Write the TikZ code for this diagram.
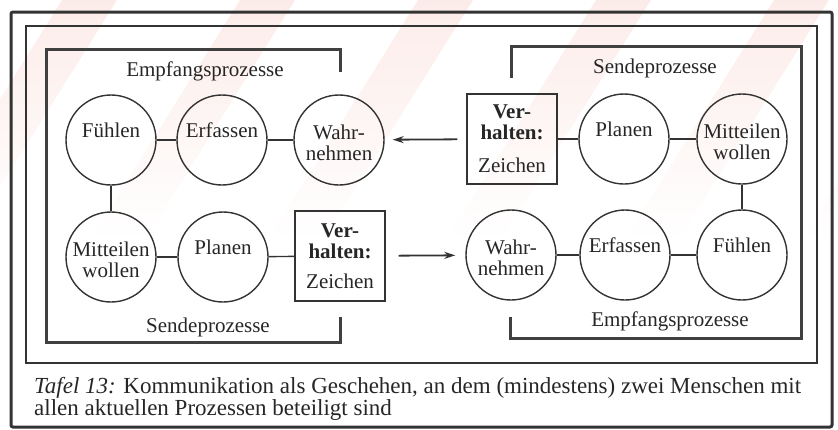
\documentclass[tikz,border=0pt]{standalone}
\usepackage{fontspec}
\setmainfont{Liberation Serif}
\usetikzlibrary{arrows.meta}
\definecolor{wmark}{RGB}{252,236,233}
\begin{document}
\begin{tikzpicture}[x=1pt,y=-1pt,
  every node/.style={font=\fontsize{21}{21}\selectfont, text=black!85},
  proc/.style={draw=black!80, circle, minimum size=90pt, inner sep=0pt, line width=1.4pt},
  ctext/.style={yshift=8pt, text height=14pt, text depth=4pt, inner sep=0pt},
  ctextb/.style={yshift=-3pt, align=center, inner sep=0pt},
  sig/.style={draw=black!80, rectangle, minimum width=90pt, minimum height=90pt, inner sep=0pt, line width=1.4pt, align=center},
  link/.style={draw=black!80, line width=1.4pt},
  flow/.style={draw=black!80, line width=1.8pt, -{Stealth[length=11pt,width=7pt]}},
  bracket/.style={draw=black!75, line width=3pt},
  ttl/.style={anchor=base, inner sep=0pt},
  capt/.style={anchor=base west, inner sep=0pt, font=\fontsize{23}{23}\selectfont},
  stripe/.style={top color=wmark, bottom color=white, draw=none},
]
\useasboundingbox (0,0) rectangle (838,429);
% faint watermark stripes
\foreach \sx in {62,240,418,596,774,952} {
  \shade[stripe] (\sx,0) -- ({\sx+55},0) -- ({\sx+55-150},240) -- ({\sx-150},240) -- cycle;
}
% frames
\draw[line width=3pt, black!80, rounded corners=2pt] (11,12) rectangle (832,427);
\draw[line width=2pt, black!80] (26,26) rectangle (817,363);
\draw[bracket] (340,72) -- (340,49) -- (46,49) -- (46,342) -- (340,342) -- (340,317);
\draw[bracket] (511,78) -- (511,46) -- (801,46) -- (801,338) -- (510,338) -- (510,317);
% titles
\node[ttl] (t1) at (205,76) {Empfangsprozesse};
\node[ttl] (t2) at (655,73) {Sendeprozesse};
\node[ttl] (t3) at (208,332) {Sendeprozesse};
\node[ttl] (t4) at (670,326) {Empfangsprozesse};
% top row
\node[proc, label={[ctext]center:F\"uhlen}] (F1) at (111,140) {};
\node[proc, label={[ctext]center:Erfassen}] (E1) at (222,140) {};
\node[proc, label={[ctextb]center:{Wahr-\\nehmen}}] (W1) at (339,140) {};
\node[sig] (V1) at (512,139) {\textbf{Ver-}\\\textbf{halten:}\\[12pt]Zeichen};
\node[proc, label={[ctext]center:Planen}] (P1) at (624,139) {};
\node[proc, label={[ctextb]center:{Mitteilen\\wollen}}] (M1) at (742,139) {};
% bottom row
\node[proc, label={[ctextb]center:{Mitteilen\\wollen}}] (M2) at (111,257) {};
\node[proc, label={[ctext]center:Planen}] (P2) at (223,257) {};
\node[sig] (V2) at (340,256) {\textbf{Ver-}\\\textbf{halten:}\\[9pt]Zeichen};
\node[proc, label={[ctextb]center:{Wahr-\\nehmen}}] (W2) at (511,255) {};
\node[proc, label={[ctext]center:Erfassen}] (E2) at (625,255) {};
\node[proc, label={[ctext]center:F\"uhlen}] (F2) at (742,255) {};
% connectors
\draw[link] (F1) -- (E1);
\draw[link] (E1) -- (W1);
\draw[link] (V1) -- (P1);
\draw[link] (P1) -- (M1);
\draw[link] (M1) -- (F2);
\draw[link] (F1) -- (M2);
\draw[link] (M2) -- (P2);
\draw[link] (P2) -- (V2);
\draw[link] (W2) -- (E2);
\draw[link] (E2) -- (F2);
\draw[flow, shorten <=9pt, shorten >=8pt] (V1) -- (W1);
\draw[flow, shorten <=13pt, shorten >=10pt] (V2) -- (W2);
% caption
\node[capt] (c1) at (34,393) {\textit{Tafel 13:} Kommunikation als Geschehen, an dem (mindestens) zwei Menschen mit};
\node[capt] (c2) at (34,415) {allen aktuellen Prozessen beteiligt sind};
\end{tikzpicture}
\end{document}
